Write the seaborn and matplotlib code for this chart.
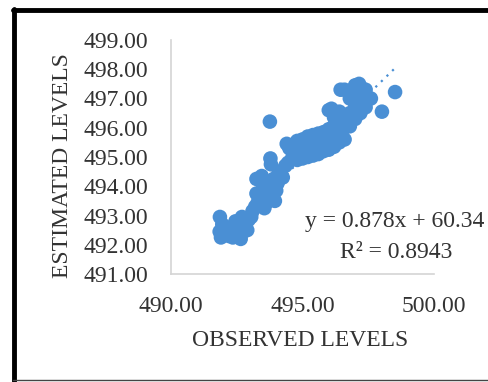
import numpy as np
import pandas as pd
import matplotlib
matplotlib.use("Agg")
import matplotlib.pyplot as plt
from matplotlib.lines import Line2D
import seaborn as sns

# Observed vs. estimated levels
observed = [
    # low range
    491.86, 491.85, 491.90, 492.05, 492.10, 492.20, 492.30, 492.35, 492.50, 492.55,
    492.65, 492.75, 492.80, 492.90, 492.95, 493.05, 493.10, 493.20, 493.30, 492.45,
    492.70, 492.60, 492.20, 491.95,
    # mid range
    493.25, 493.45, 493.50, 493.60, 493.65, 493.55, 493.80, 493.95, 494.00, 494.05,
    493.90, 493.70, 493.78, 493.80, 494.10, 494.35, 494.40, 493.25, 494.25, 494.45,
    494.50,
    # upper range
    494.60, 494.60, 494.80, 494.80, 494.80, 495.00, 495.00, 495.00, 495.20, 495.20,
    495.20, 495.40, 495.40, 495.40, 495.60, 495.60, 495.60, 495.80, 495.80, 495.80,
    496.00, 496.00, 496.00, 496.00, 496.20, 496.20, 496.20, 496.20, 496.40, 496.40,
    496.40, 496.40, 496.60, 496.60, 496.60, 496.60, 496.80, 496.80, 496.80, 497.00,
    497.00, 497.00, 497.00, 497.20, 497.20, 497.20, 497.40, 497.40, 497.40, 497.60,
    496.45, 496.10, 497.15,
    # isolated
    493.76, 498.02, 498.52,
]
estimated = [
    # low range
    492.95, 492.45, 492.25, 492.35, 492.60, 492.30, 492.50, 492.25, 492.35, 492.65,
    492.20, 492.45, 492.75, 492.50, 492.85, 492.95, 493.15, 493.30, 493.45, 492.80,
    492.95, 492.45, 492.55, 492.70,
    # mid range
    494.25, 494.35, 494.05, 493.80, 493.45, 493.25, 493.60, 493.50, 493.85, 494.10,
    494.25, 494.00, 494.95, 494.75, 494.50, 494.70, 495.45, 493.75, 494.30, 494.80,
    495.30,
    # upper range
    494.95, 495.30, 494.90, 495.25, 495.55, 494.95, 495.30, 495.60, 495.00, 495.35,
    495.70, 495.05, 495.40, 495.75, 495.10, 495.45, 495.80, 495.20, 495.50, 495.85,
    495.25, 495.60, 495.95, 496.60, 495.35, 495.70, 496.05, 496.35, 495.50, 495.85,
    496.20, 496.55, 495.60, 496.00, 496.35, 497.30, 496.05, 496.50, 497.00, 496.30,
    496.70, 497.10, 497.45, 496.50, 496.90, 497.40, 496.70, 497.05, 497.30, 497.00,
    497.30, 496.65, 497.50,
    # isolated
    496.21, 496.55, 497.22,
]

slope = 0.878
intercept = 60.34
r_squared = 0.8943

x_ticks = [490.00, 495.00, 500.00]
y_ticks = [491.00, 492.00, 493.00, 494.00, 495.00, 496.00, 497.00, 498.00, 499.00]

df = pd.DataFrame({"OBSERVED LEVELS": observed, "ESTIMATED LEVELS": estimated})

sns.set_style("white")
plt.rcParams["font.family"] = ["Liberation Serif", "DejaVu Serif"]

W, H = 488, 382
fig = plt.figure(figsize=(W / 100, H / 100), dpi=100)
ax = fig.add_axes([171 / W, 1 - 274 / H, (434 - 171) / W, (274 - 40) / H])

blue = "#4a8fd4"
sns.scatterplot(data=df, x="OBSERVED LEVELS", y="ESTIMATED LEVELS", ax=ax,
                s=110, color=blue, edgecolor="none", linewidth=0, alpha=1.0, zorder=2)

# Linear trendline over the observed range
xs = np.array([min(observed), max(observed)])
ax.plot(xs, slope * xs + intercept, linestyle=(0, (1, 2.5)), color=blue,
        linewidth=1.6, zorder=1)

ax.set_xlim(490, 500)
ax.set_ylim(491, 499)
ax.set_xticks(x_ticks)
ax.set_yticks(y_ticks)
ax.set_xticklabels([f"{v:.2f}" for v in x_ticks])
ax.set_yticklabels([f"{v:.2f}" for v in y_ticks])
ax.tick_params(axis="both", length=0, labelsize=17, colors="#333333")
ax.tick_params(axis="y", pad=16.5)
ax.tick_params(axis="x", pad=16)

for side in ["top", "right"]:
    ax.spines[side].set_visible(False)
for side in ["left", "bottom"]:
    ax.spines[side].set_color("#d4d4d4")
    ax.spines[side].set_linewidth(1.2)

ax.set_xlabel("")
ax.set_ylabel("")
fig.text(300 / W, 1 - 340 / H, "OBSERVED LEVELS", ha="center", va="center",
         fontsize=17, color="#333333")
fig.text(62 / W, 1 - 166 / H, "ESTIMATED LEVELS", ha="center", va="center",
         rotation=90, fontsize=17, color="#333333")

fig.text(395 / W, 1 - 222 / H, f"y = {slope:.3f}x + {intercept:.2f}", ha="center",
         va="center", fontsize=17, color="#333333")
fig.text(396 / W, 1 - 252 / H, f"R² = {r_squared:.4f}", ha="center",
         va="center", fontsize=17, color="#333333")

# Frame around the figure
fig.add_artist(Line2D([13 / W, 1.0], [1 - 10 / H, 1 - 10 / H], transform=fig.transFigure,
                      color="black", linewidth=3.5))
fig.add_artist(Line2D([14 / W, 14 / W], [0, 1 - 8.5 / H], transform=fig.transFigure,
                      color="black", linewidth=3.5))
fig.add_artist(Line2D([13 / W, 1.0], [1 - 380 / H, 1 - 380 / H], transform=fig.transFigure,
                      color="#444444", linewidth=1.0))

fig.savefig("out.png", dpi=100)
